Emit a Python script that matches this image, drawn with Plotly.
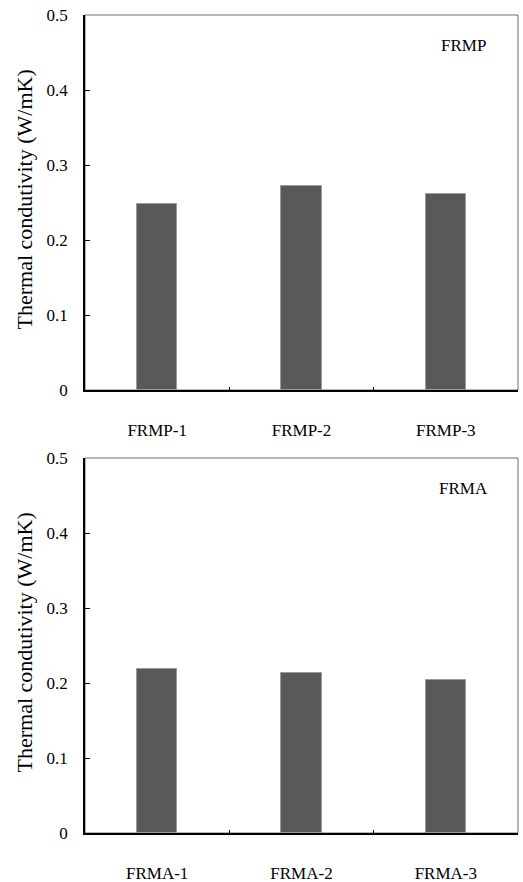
import plotly.graph_objects as go

cats_p = ["FRMP-1", "FRMP-2", "FRMP-3"]
vals_p = [0.248, 0.272, 0.261]
cats_a = ["FRMA-1", "FRMA-2", "FRMA-3"]
vals_a = [0.219, 0.214, 0.204]
panel_labels = ["FRMP", "FRMA"]
y_title = "Thermal condutivity (W/mK)"
y_ticks = [0, 0.1, 0.2, 0.3, 0.4, 0.5]
y_ticktext = ["0", "0.1", "0.2", "0.3", "0.4", "0.5"]

W, H = 523, 882
FONT = "Liberation Serif, Times New Roman, serif"
BAR = "#595959"

fig = go.Figure()
fig.add_trace(go.Bar(x=cats_p, y=vals_p, width=0.28, marker=dict(color=BAR, line=dict(color="#9a9a9a", width=1)),
                     xaxis="x", yaxis="y", showlegend=False))
fig.add_trace(go.Bar(x=cats_a, y=vals_a, width=0.28, marker=dict(color=BAR, line=dict(color="#9a9a9a", width=1)),
                     xaxis="x2", yaxis="y2", showlegend=False))

xd = [85 / W, 518 / W]
top_dom = [(H - 390) / H, (H - 15) / H]
bot_dom = [(H - 833) / H, (H - 458) / H]

def xax(anchor):
    return dict(domain=xd, anchor=anchor, type="category", showline=True, linecolor="black", linewidth=1.5,
                ticks="inside", ticklen=3, tickcolor="black", tickson="boundaries", showgrid=False,
                ticklabelstandoff=24, tickfont=dict(family=FONT, size=17, color="black"), zeroline=False,
                automargin=False)

def yax(dom, anchor):
    return dict(domain=dom, anchor=anchor, range=[0, 0.5], tickvals=y_ticks, ticktext=y_ticktext,
                showline=True, linecolor="black", linewidth=1.5, ticks="inside", ticklen=5, tickcolor="black",
                showgrid=False, zeroline=False, ticklabelstandoff=12, automargin=False,
                tickfont=dict(family=FONT, size=17, color="black"))

fig.update_layout(
    width=W, height=H, margin=dict(l=0, r=0, t=0, b=0, autoexpand=False),
    paper_bgcolor="white", plot_bgcolor="white",
    xaxis=xax("y"), yaxis=yax(top_dom, "x"),
    xaxis2=xax("y2"), yaxis2=yax(bot_dom, "x2"),
    bargap=0,
)

for xr, yr in [("x domain", "y domain"), ("x2 domain", "y2 domain")]:
    fig.add_shape(type="rect", xref=xr, yref=yr, x0=0, x1=1, y0=0, y1=1,
                  line=dict(color="#6e6e6e", width=1), layer="below")

for lab, yr, dom in [(panel_labels[0], "y domain", top_dom), (panel_labels[1], "y2 domain", bot_dom)]:
    xr = "x domain" if yr == "y domain" else "x2 domain"
    fig.add_annotation(text=lab, xref=xr, yref=yr, x=0.873, y=0.918, showarrow=False,
                       xanchor="center", yanchor="middle",
                       font=dict(family=FONT, size=17, color="black"))
    fig.add_annotation(text=y_title, xref="paper", yref="paper", x=24 / W, y=(dom[0] + dom[1]) / 2 + 3 / H,
                       textangle=-90, showarrow=False, xanchor="center", yanchor="middle",
                       font=dict(family=FONT, size=22, color="black"))

fig.write_html("out.html", config={"displayModeBar": False},
               post_script="document.body.style.margin='0';document.body.style.overflow='hidden';")
